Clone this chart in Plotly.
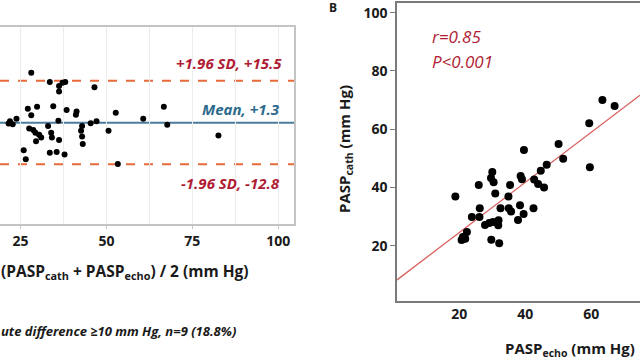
import plotly.graph_objects as go

# ---------------- data ----------------
# Panel A (Bland-Altman): mean of methods vs difference
ba_mean = [28.1, 33.5, 36.2, 36.2, 37.2, 38.0, 46.5, 27.1, 29.8, 28.1, 34.5, 38.4, 41.3,
           41.1, 52.7, 66.7, 60.7, 47.1, 45.4, 36.0, 21.9, 22.7, 23.8, 21.5, 67.7, 33.0,
           42.9, 27.5, 28.7, 29.3, 30.4, 31.0, 29.5, 33.9, 34.1, 36.2, 42.6, 42.9, 43.1,
           50.6, 82.6, 25.9, 26.5, 33.5, 35.5, 37.8, 53.3]
ba_diff = [18.2, 15.1, 13.7, 11.9, 14.8, 15.1, 13.3, 6.0, 6.7, 3.8, 6.9, 5.6, 5.1,
           4.0, 4.7, 6.7, 2.6, 1.8, 1.1, 2.0, 1.8, 0.8, 2.6, 1.0, 0.6, 0.2,
           0.2, -0.7, -1.2, -2.1, -2.8, -3.7, -5.0, -2.1, -3.7, -4.6, -1.4, -3.4, -5.9,
           -1.4, -3.0, -8.0, -11.1, -8.9, -8.6, -9.5, -12.7]
ba_mean_diff = 1.3
ba_upper = 15.5
ba_lower = -12.8
ba_labels = ["+1.96 SD, +15.5", "Mean, +1.3", "-1.96 SD, -12.8"]
ba_ticks = [25, 50, 75, 100]
footnote = "ute difference ≥10 mm Hg, n=9 (18.8%)"

# Panel B (correlation): echo vs cath
pasp_echo = [63.4, 67.1, 59.4, 39.6, 50.1, 51.5, 59.6, 46.5, 44.7, 30.0, 29.6, 30.4,
             38.6, 39.0, 42.7, 43.9, 45.7, 25.9, 35.4, 18.8, 30.9, 34.9, 26.2, 32.5,
             35.0, 35.7, 38.4, 42.5, 39.5, 37.8, 23.8, 26.1, 27.8, 29.1, 30.2, 31.9,
             31.8, 22.3, 21.1, 20.7, 21.8, 29.7, 32.1]
pasp_cath = [70.0, 67.9, 62.0, 52.8, 54.9, 49.8, 46.9, 47.8, 45.7, 45.3, 43.2, 41.8,
             43.9, 42.8, 42.7, 41.2, 40.0, 40.8, 40.8, 36.9, 37.9, 36.9, 32.8, 32.8,
             32.8, 31.7, 33.9, 32.8, 30.9, 28.8, 29.8, 29.8, 27.1, 27.8, 28.1, 28.7,
             27.0, 24.7, 23.0, 21.9, 22.4, 22.0, 20.8]
fit_slope = 0.86
fit_intercept = 7.3
stats_text = ["r=0.85", "P<0.001"]
b_xticks = [20, 40, 60]
b_yticks = [20, 40, 60, 80, 100]

# ---------------- styling ----------------
FONT = "Open Sans"
DARKRED = "#b01c34"
TEAL = "#2c6a8c"
DASH_COL = "#e8693a"
MEAN_COL = "#4d7d9e"
INK = "#1a1a1a"

xa_range = [19.0, 104.6]
ya_range = [-33.0, 33.6]
xb_range = [1.1, 74.8]
yb_range = [1.1, 103.3]


def bold(items):
    return ["<b>%s</b>" % v for v in items]


fig = go.Figure()

fig.add_trace(go.Scatter(x=ba_mean, y=ba_diff, mode="markers", xaxis="x", yaxis="y",
                         marker=dict(color="black", size=6), showlegend=False,
                         hoverinfo="skip"))

fit_x = xb_range
fit_y = [fit_intercept + fit_slope * v for v in fit_x]
fig.add_trace(go.Scatter(x=fit_x, y=fit_y, mode="lines", xaxis="x2", yaxis="y2",
                         line=dict(color="#d9605e", width=1.3), showlegend=False,
                         hoverinfo="skip"))
fig.add_trace(go.Scatter(x=pasp_echo, y=pasp_cath, mode="markers", xaxis="x2", yaxis="y2",
                         marker=dict(color="black", size=8), showlegend=False,
                         hoverinfo="skip"))

# limit lines
for val, col, dash in [(ba_upper, DASH_COL, "dash"), (ba_lower, DASH_COL, "dash"),
                       (ba_mean_diff, MEAN_COL, "solid")]:
    fig.add_shape(type="line", xref="x domain", yref="y", x0=0, x1=1, y0=val, y1=val,
                  line=dict(color=col, width=2, dash=dash), layer="below")

tickfont = dict(family=FONT, size=14, color=INK)

fig.update_layout(
    width=640, height=360, margin=dict(l=0, r=0, t=0, b=0),
    paper_bgcolor="white", plot_bgcolor="white",
    xaxis=dict(domain=[0, 294 / 640], range=xa_range, tickvals=ba_ticks,
               ticktext=bold(ba_ticks),
               showline=True, linecolor="#c4c4c4", linewidth=1.5, mirror=True,
               ticks="outside", ticklen=3, tickcolor="#c4c4c4",
               showgrid=True, gridcolor="#ececec", gridwidth=1,
               minor=dict(dtick=12.5, tick0=0, showgrid=True, gridcolor="#ececec"),
               zeroline=False, tickfont=tickfont),
    yaxis=dict(domain=[1 - 224 / 360, 1 - 27.3 / 360], range=ya_range, side="right",
               showline=True, linecolor="#c4c4c4", linewidth=1.5,
               showticklabels=False, ticks="", showgrid=False, zeroline=False),
    xaxis2=dict(domain=[397 / 640, 1.0], range=xb_range, anchor="y2", tickvals=b_xticks,
                ticktext=bold(b_xticks),
                showline=True, linecolor="#7a7a7a", linewidth=1.5, mirror=True,
                ticks="", showgrid=False, zeroline=False, tickfont=tickfont),
    yaxis2=dict(domain=[1 - 300.7 / 360, 1 - 3 / 360], range=yb_range, anchor="x2",
                tickvals=b_yticks, ticktext=bold(b_yticks),
                showline=True, linecolor="#7a7a7a", linewidth=1.5,
                ticks="outside", ticklen=5, tickcolor="#7a7a7a",
                showgrid=False, zeroline=False, tickfont=tickfont),
)

ann = []


def add(text, px, py, xanchor="center", color=INK, size=14, angle=0, yanchor="middle"):
    ann.append(dict(text=text, x=px / 640, y=1 - py / 360, xref="paper", yref="paper",
                    xanchor=xanchor, yanchor=yanchor, showarrow=False, textangle=angle,
                    borderpad=0, font=dict(family=FONT, size=size, color=color)))


add("<b><i>%s</i></b>" % ba_labels[0], 283, 63, "right", DARKRED, 15)
add("<b><i>%s</i></b>" % ba_labels[1], 281, 109, "right", TEAL, 15)
add("<b><i>%s</i></b>" % ba_labels[2], 281, 183, "right", DARKRED, 15)
# axis title panel A
add("<b>(PASP<sub>cath</sub> + PASP<sub>echo</sub>) / 2 (mm Hg)</b>", 0, 271, "left",
    INK, 15.5)
# footnote
add("<b><i>%s</i></b>" % footnote, 0, 331, "left", INK, 13)
# panel B label
add("<b>B</b>", 333, 7, "center", INK, 12)
# panel B axis titles
add("<b>PASP<sub>echo</sub> (mm Hg)</b>", 570, 349, "center", INK, 15)
add("<b>PASP<sub>cath</sub> (mm Hg)</b>", 345, 149, "center", INK, 15, -90)
# stats
for i, t in enumerate(stats_text):
    add("<i>%s</i>" % t, 431, 37 + 24 * i, "left", DARKRED, 17)
fig.update_layout(annotations=ann)

fig.write_html("out.html", config={"displayModeBar": False},
               post_script="document.body.style.margin='0px';")
